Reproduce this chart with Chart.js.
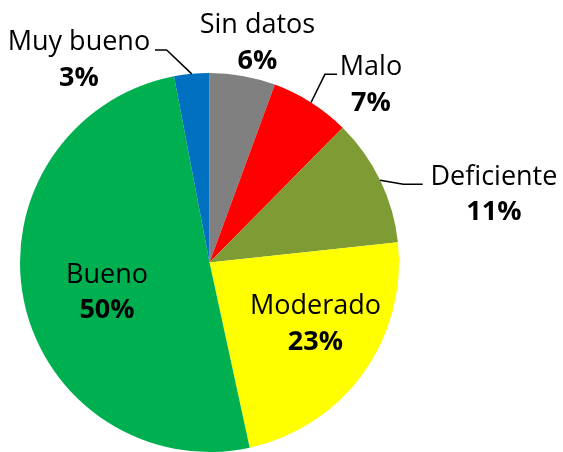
<!DOCTYPE html>
<html>
<head>
<meta charset="utf-8">
<script src="https://cdn.jsdelivr.net/npm/chart.js@4/dist/chart.umd.min.js"></script>
<style>
  html, body { margin: 0; padding: 0; background: #fff; }
  #wrap { position: relative; width: 563px; height: 452px; }
</style>
</head>
<body>
<div id="wrap"><canvas id="chart"></canvas></div>
<script>
// categories, clockwise from 12 o'clock
const categories = ["Sin datos", "Malo", "Deficiente", "Moderado", "Bueno", "Muy bueno"];
// share of each category (%)
const values = [5.6, 6.8, 10.9, 23.3, 50.4, 3.0];
const colors = ["#808080", "#FF0000", "#7F9B34", "#FFFF00", "#00B050", "#0070C0"];

// label placement, in units of the pie radius from its centre (x, first baseline)
const labelPos = [
    [0.253, -1.211],
    [0.852, -0.989],
    [1.501, -0.409],
    [0.559, 0.272],
    [-0.541, 0.108],
    [-0.689, -1.121]
];
// leader lines: elbow and end point, same units (null = none)
const leaders = [
    null,
    [[0.609, -0.993], [0.673, -0.993]],
    [[1.023, -0.413], [1.125, -0.413]],
    null,
    null,
    [[-0.226, -1.121], [-0.288, -1.121]]
];

const labelsPlugin = {
    id: "pieLabels",
    afterDatasetsDraw(chart) {
        const ctx = chart.ctx;
        const meta = chart.getDatasetMeta(0);
        const total = values.reduce((a, b) => a + b, 0);
        ctx.save();
        meta.data.forEach(function (arc, i) {
            const cx = arc.x, cy = arc.y, r = arc.outerRadius;
            const mid = (arc.startAngle + arc.endAngle) / 2;
            if (leaders[i]) {
                ctx.beginPath();
                ctx.strokeStyle = "#000";
                ctx.lineWidth = 1.5;
                ctx.moveTo(cx + Math.cos(mid) * r, cy + Math.sin(mid) * r);
                leaders[i].forEach(function (p) {
                    ctx.lineTo(cx + p[0] * r, cy + p[1] * r);
                });
                ctx.stroke();
            }
            const x = cx + labelPos[i][0] * r;
            const y = cy + labelPos[i][1] * r;
            ctx.fillStyle = "#000";
            ctx.textAlign = "center";
            ctx.textBaseline = "alphabetic";
            ctx.font = "27px 'Open Sans'";
            ctx.fillText(categories[i], x, y);
            ctx.font = "bold 27px 'Open Sans'";
            ctx.fillText(Math.round(values[i] / total * 100) + "%", x, y + 35.5);
        });
        ctx.restore();
    }
};

new Chart(document.getElementById("chart"), {
    type: "pie",
    data: {
        labels: categories,
        datasets: [{
            data: values,
            backgroundColor: colors,
            borderWidth: 0
        }]
    },
    options: {
        responsive: true,
        maintainAspectRatio: false,
        animation: false,
        layout: { padding: { top: 73, bottom: 0, left: 20, right: 164 } },
        plugins: {
            legend: { display: false },
            tooltip: { enabled: false }
        }
    },
    plugins: [labelsPlugin]
});
</script>
</body>
</html>
